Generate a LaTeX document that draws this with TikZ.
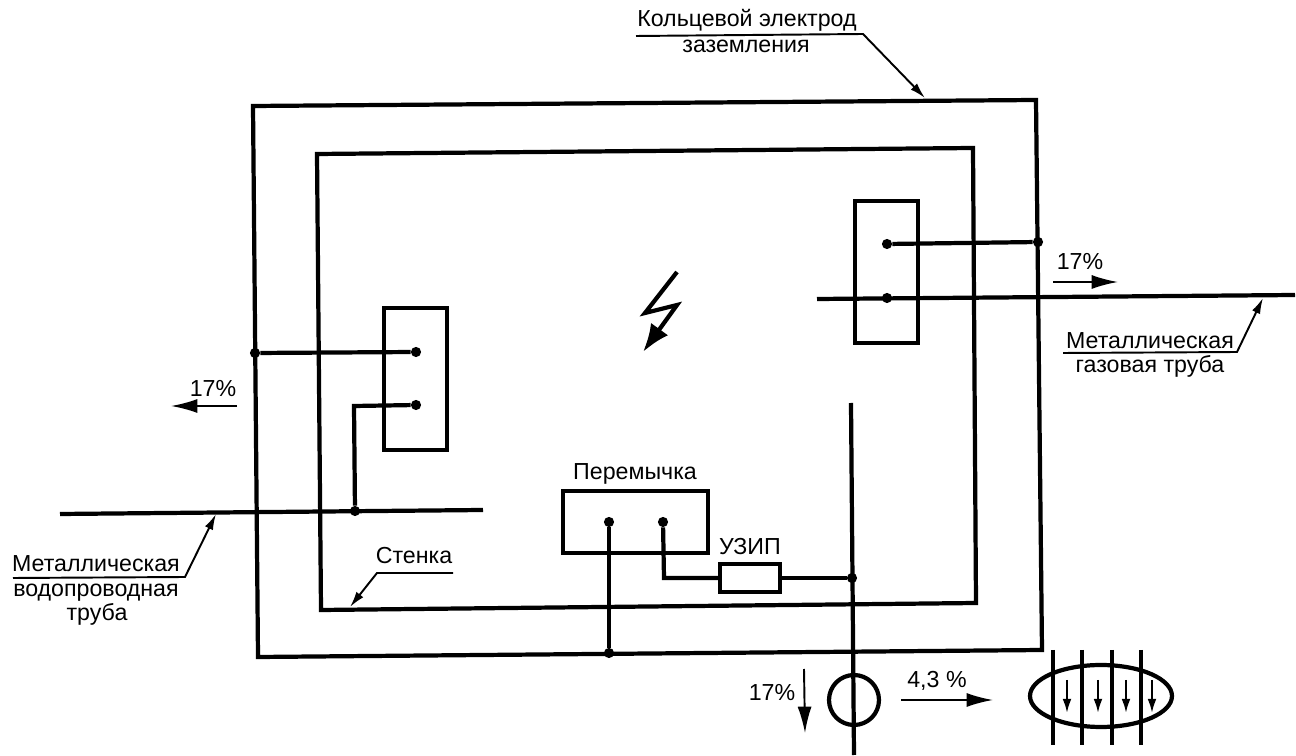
\documentclass[tikz,border=0pt]{standalone}
\usepackage{fontspec}
\setmainfont{Liberation Sans}
\usetikzlibrary{arrows.meta, shapes.geometric}
\tikzset{
    wire/.style={line width=2.4pt, black},
    thin wire/.style={line width=1.2pt, black},
    leader/.style={line width=1.1pt, black, -{Latex[length=9pt,width=5pt]}},
    flow/.style={line width=1.1pt, black, -{Latex[length=15pt,width=8pt]}},
    junction/.style={circle, fill=black, inner sep=0pt, minimum size=5.8pt},
    clamp box/.style={draw, line width=2.4pt, minimum width=1.26cm, minimum height=2.84cm},
    label/.style={inner sep=0pt, anchor=base, font=\fontsize{13.2}{16}\selectfont}
}
\begin{document}
\begin{tikzpicture}[x=0.02cm, y=-0.02cm]
    \useasboundingbox (0,0) rectangle (1296,756);

    % Ground ring and wall
    \draw[wire] (253,106) -- (1036,100) -- (1042,650) -- (258,657) -- cycle;
    \draw[wire] (317,154) -- (973,148) -- (976,603) -- (321,610) -- cycle;

    % Clamp boxes
    \node[clamp box] (boxL) at (415.5,379) {};
    \node[clamp box] (boxR) at (886.5,272) {};
    \node[draw, line width=2.4pt, minimum width=2.9cm, minimum height=1.24cm] (bridge) at (635.5,522) {};
    \node[draw, line width=2.4pt, minimum width=1.2cm, minimum height=0.56cm] (spd) at (750,578) {};

    % Junctions
    \node[junction] (j1) at (255,353) {};
    \node[junction] (j2) at (416,352) {};
    \node[junction] (j3) at (416,405) {};
    \node[junction] (j4) at (355,511) {};
    \node[junction] (j5) at (887,244) {};
    \node[junction] (j6) at (887,298) {};
    \node[junction] (j7) at (1038,242) {};
    \node[junction] (j8) at (609,522) {};
    \node[junction] (j9) at (663,522) {};
    \node[junction] (j10) at (609,653) {};
    \node[junction] (j11) at (852,578) {};

    % Wires
    \draw[wire] (j1) -- (j2);
    \draw[wire] (j3) -- (354,406) -- (j4);
    \draw[wire] (j5) -- (j7);
    \draw[wire] (j8) -- (j10);
    \draw[wire] (j9) -- (664,578) -- (spd.west);
    \draw[wire] (spd.east) -- (j11);

    % Pipes and down conductor
    \coordinate (waterA) at (60,514);
    \coordinate (waterB) at (483,510);
    \coordinate (gasA) at (817,299);
    \coordinate (gasB) at (1295,295);
    \coordinate (downA) at (851,403);
    \coordinate (downB) at (854,755);
    \draw[wire] (waterA) -- (waterB);
    \draw[wire] (gasA) -- (gasB);
    \draw[wire] (downA) -- (downB);

    % Loop and cable
    \node[draw, circle, line width=2.4pt, minimum size=1cm, inner sep=0pt] (loop) at (854,700) {};
    \node[draw, ellipse, line width=2.4pt, minimum width=2.84cm, minimum height=1.24cm, inner sep=0pt] (cable) at (1101,696) {};
    \foreach \x in {1053, 1082, 1112, 1141} {
        \draw[wire] (\x,650) -- (\x,745);
    }
    \foreach \x in {1067, 1098, 1126, 1152} {
        \draw[thin wire, -{Latex[length=8pt,width=5pt]}] (\x,680) -- (\x,713);
    }

    % Lightning
    \coordinate (boltA) at (677,272);
    \coordinate (boltB) at (645,313);
    \coordinate (boltC) at (677,305);
    \coordinate (boltD) at (643,352);
    \draw[wire, -{Latex[length=16pt,width=12pt]}] (boltA) -- (boltB) -- (boltC) -- (boltD);

    % Current shares
    \node[label] (s1) at (1080,270) {17\%};
    \coordinate (s1a) at (1053,282);
    \coordinate (s1b) at (1118,282);
    \draw[flow] (s1a) -- (s1b);
    \node[label] (s2) at (213,397) {17\%};
    \coordinate (s2a) at (237,406);
    \coordinate (s2b) at (171,406);
    \draw[flow] (s2a) -- (s2b);
    \node[label] (s3) at (772,701) {17\%};
    \coordinate (s3a) at (804,669);
    \coordinate (s3b) at (805,733);
    \draw[flow] (s3a) -- (s3b);
    \node[label] (s4) at (937,688) {4,3 \%};
    \coordinate (s4a) at (901,700);
    \coordinate (s4b) at (993,700);
    \draw[flow] (s4a) -- (s4b);

    % Labels with leaders
    \node[label] (ring1) at (747,27) {Кольцевой электрод};
    \node[label] (ring2) at (746,53) {заземления};
    \coordinate (ringA) at (636,36);
    \coordinate (ringB) at (863,34);
    \coordinate (ringC) at (925,98);
    \draw[leader] (ringA) -- (ringB) -- (ringC);

    \node[label] (wall) at (414,564) {Стенка};
    \coordinate (wallA) at (453,573);
    \coordinate (wallB) at (377,573);
    \coordinate (wallC) at (350,607);
    \draw[leader] (wallA) -- (wallB) -- (wallC);

    \node[label] (water1) at (96,572) {Металлическая};
    \node[label] (water2) at (96,597) {водопроводная};
    \node[label] (water3) at (97,621) {труба};
    \coordinate (wpA) at (13,578);
    \coordinate (wpB) at (185,577);
    \coordinate (wpC) at (216,514);
    \draw[leader] (wpA) -- (wpB) -- (wpC);

    \node[label] (gas1) at (1150,349) {Металлическая};
    \node[label] (gas2) at (1150,373) {газовая труба};
    \coordinate (gpA) at (1063,353);
    \coordinate (gpB) at (1237,352);
    \coordinate (gpC) at (1263,298);
    \draw[leader] (gpA) -- (gpB) -- (gpC);

    \node[label] (jumper) at (635,480) {Перемычка};
    \node[label] (uzip) at (750,555) {УЗИП};
\end{tikzpicture}
\end{document}
